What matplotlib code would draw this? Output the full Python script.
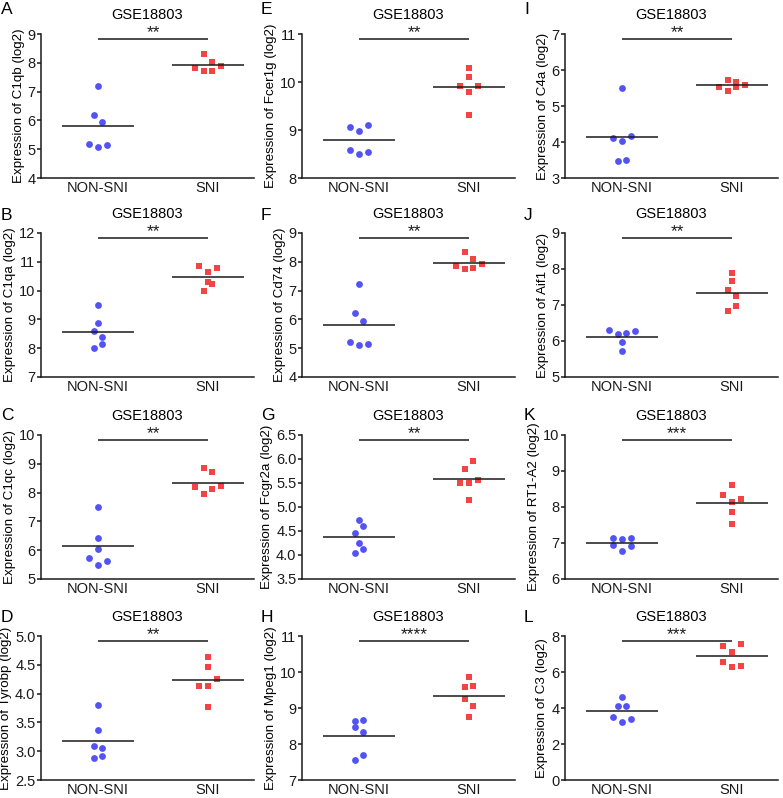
import numpy as np
import matplotlib
matplotlib.use("Agg")
import matplotlib.pyplot as plt
import matplotlib.transforms as mtransforms
from matplotlib.ticker import FormatStrFormatter

plt.rcParams['font.family'] = ['Liberation Sans', 'DejaVu Sans']

# ---------------- data ----------------
groups = ["NON-SNI", "SNI"]
dataset = "GSE18803"
panel_letters = ["A", "B", "C", "D", "E", "F", "G", "H", "I", "J", "K", "L"]
genes = ["C1qb", "C1qa", "C1qc", "Tyrobp", "Fcer1g", "Cd74", "Fcgr2a", "Mpeg1",
         "C4a", "Aif1", "RT1-A2", "C3"]
stars = ["**", "**", "**", "**", "**", "**", "**", "****", "**", "**", "***", "***"]

non_sni = {
    "C1qb":   [7.20, 6.19, 5.93, 5.19, 5.09, 5.13],
    "C1qa":   [9.49, 8.86, 8.58, 8.40, 8.00, 8.14],
    "C1qc":   [7.51, 6.42, 6.05, 5.73, 5.48, 5.62],
    "Tyrobp": [3.80, 3.37, 3.09, 3.05, 2.88, 2.92],
    "Fcer1g": [9.07, 8.97, 9.11, 8.58, 8.50, 8.55],
    "Cd74":   [7.23, 6.22, 5.95, 5.20, 5.10, 5.15],
    "Fcgr2a": [4.72, 4.45, 4.61, 4.25, 4.04, 4.13],
    "Mpeg1":  [8.63, 8.66, 8.46, 8.34, 7.55, 7.70],
    "C4a":    [5.51, 4.11, 4.02, 4.18, 3.46, 3.49],
    "Aif1":   [6.31, 6.20, 6.22, 6.27, 5.96, 5.72],
    "RT1-A2": [7.13, 7.12, 7.14, 6.95, 6.77, 6.91],
    "C3":     [4.62, 4.12, 4.12, 3.52, 3.21, 3.37],
}
sni = {
    "C1qb":   [8.30, 8.04, 7.82, 7.71, 7.72, 7.89],
    "C1qa":   [10.84, 10.65, 10.79, 10.31, 9.97, 10.24],
    "C1qc":   [8.84, 8.72, 8.19, 7.95, 8.14, 8.22],
    "Tyrobp": [4.63, 4.46, 4.13, 4.13, 4.26, 3.77],
    "Fcer1g": [10.30, 10.10, 9.91, 9.80, 9.91, 9.31],
    "Cd74":   [8.34, 8.09, 7.87, 7.74, 7.77, 7.93],
    "Fcgr2a": [5.80, 5.96, 5.50, 5.49, 5.57, 5.15],
    "Mpeg1":  [9.86, 9.57, 9.60, 9.26, 9.05, 8.74],
    "C4a":    [5.72, 5.67, 5.52, 5.41, 5.52, 5.59],
    "Aif1":   [7.90, 7.66, 7.41, 7.25, 6.82, 6.96],
    "RT1-A2": [8.60, 8.32, 8.13, 8.22, 7.86, 7.52],
    "C3":     [7.44, 7.12, 7.55, 6.53, 6.30, 6.36],
}
y_min = [4, 7, 5, 2.5, 8, 4, 3.5, 7, 3, 5, 6, 0]
y_max = [9, 12, 10, 5.0, 11, 9, 6.5, 11, 7, 9, 10, 8]
y_step = [1, 1, 1, 0.5, 1, 1, 0.5, 1, 1, 1, 1, 2]

# ---------------- layout / style ----------------
W, H = 783, 798
col_left = [41, 302, 565]
row_top = [34, 233, 435, 636]
AW, AH = 213, 144
letter_x = [1, 261, 524]
letter_base = [14, 220, 420, 622]
X_PX_PER_UNIT = 110.0
X0_PX = 57.0
BLUE = '#5353F4'
RED = '#F24444'
INK = '#1a1a1a'


def swarm_offsets(vals, yrange, thr_px=8.2, step_px=8.7):
    """Prism-like column scatter: cluster close values, spread each cluster symmetrically."""
    thr = thr_px * yrange / AH
    step = step_px / X_PX_PER_UNIT
    order = sorted(range(len(vals)), key=lambda i: vals[i])
    clusters = []
    for i in order:
        if clusters and vals[i] - vals[clusters[-1][0]] <= thr:
            clusters[-1].append(i)
        else:
            clusters.append([i])
    offs = [0.0] * len(vals)
    for c in clusters:
        c = sorted(c)
        for k, i in enumerate(c):
            offs[i] = (k - (len(c) - 1) / 2.0) * step
    return offs


fig = plt.figure(figsize=(W / 100, H / 100), dpi=100)

for idx, gene in enumerate(genes):
    col, row = divmod(idx, 4)
    l, t = col_left[col], row_top[row]
    ax = fig.add_axes([l / W, 1 - (t + AH) / H, AW / W, AH / H])
    ymin, ymax = y_min[idx], y_max[idx]
    yr = ymax - ymin
    ax.set_xlim(-X0_PX / X_PX_PER_UNIT, (AW - X0_PX) / X_PX_PER_UNIT)
    ax.set_ylim(ymin, ymax)

    for gi, (vals, color, marker, size) in enumerate(
            [(non_sni[gene], BLUE, 'o', 24), (sni[gene], RED, 's', 20)]):
        offs = swarm_offsets(vals, yr)
        xs = [gi + o for o in offs]
        ax.scatter(xs, vals, s=size, c=color, marker=marker, linewidths=0,
                   zorder=3, clip_on=False)
        m = np.mean(vals)
        ax.plot([gi - 0.33, gi + 0.33], [m, m], color=INK, lw=1.1,
                zorder=4, solid_capstyle='butt')

    # significance bar
    trans = mtransforms.blended_transform_factory(ax.transData, ax.transAxes)
    ysig = 1 - 5.0 / AH
    ax.plot([0, 1], [ysig, ysig], color=INK, lw=1.1, transform=trans,
            clip_on=False, solid_capstyle='butt')
    ax.text(0.5, ysig - 1.0 / AH, stars[idx], transform=trans, ha='center',
            va='bottom', fontsize=12.5, color=INK)

    ax.set_title(dataset, fontsize=10.5, pad=10.5)
    ax.set_ylabel(f"Expression of {gene} (log2)", fontsize=9.6, labelpad=2)
    ax.set_xticks([0, 1])
    ax.set_xticklabels(groups, fontsize=10.5)
    ticks = np.arange(ymin, ymax + y_step[idx] / 2, y_step[idx])
    ax.set_yticks(ticks)
    if y_step[idx] < 1:
        ax.yaxis.set_major_formatter(FormatStrFormatter('%.1f'))
    else:
        ax.yaxis.set_major_formatter(FormatStrFormatter('%d'))
    ax.tick_params(axis='y', direction='out', length=3, width=1.1,
                   labelsize=10.5, pad=1, colors=INK)
    ax.tick_params(axis='x', length=0, labelsize=10.5, pad=2.5, colors=INK)
    for s in ['top', 'right']:
        ax.spines[s].set_visible(False)
    for s in ['left', 'bottom']:
        ax.spines[s].set_linewidth(1.1)
        ax.spines[s].set_color(INK)

    fig.text(letter_x[col] / W, 1 - letter_base[row] / H, panel_letters[idx],
             fontsize=12.5, va='baseline', ha='left')

fig.savefig("out.png", dpi=100)
